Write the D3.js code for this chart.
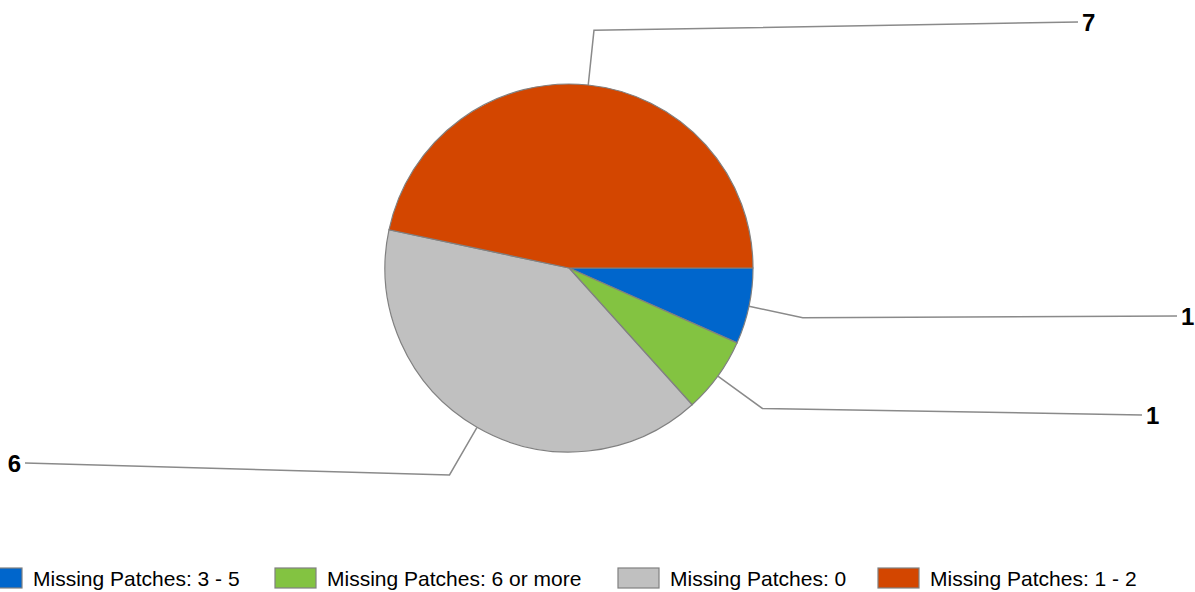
<!DOCTYPE html>
<html>
  <head>
    <meta charset="utf-8">
    <title>Missing Patches</title>
    <script src="https://cdnjs.cloudflare.com/ajax/libs/d3/7.8.5/d3.min.js"></script>
    <style>
      body { margin: 0; background: #fff; }
      text { font-family: "Liberation Sans", Arial, sans-serif; }
    </style>
  </head>
  <body>
    <script>
      // data
      var categories = ["Missing Patches: 3 - 5", "Missing Patches: 6 or more", "Missing Patches: 0", "Missing Patches: 1 - 2"];
      var values = [1, 1, 6, 7];
      var colors = ["#0066cc", "#83c341", "#c0c0c0", "#d34600"];

      // where each value label sits (end of its leader line)
      var labelEnds = [[1177, 316], [1142, 415], [25, 463], [1078, 22]];

      var width = 1195, height = 592;
      var cx = 569, cy = 268, r = 184, rKink = 239;

      var svg = d3.select("body").append("svg")
        .attr("width", width)
        .attr("height", height);

      // pie starts at 3 o'clock and runs clockwise
      var pie = d3.pie()
        .sort(null)
        .startAngle(Math.PI / 2)
        .endAngle(Math.PI / 2 + 2 * Math.PI);

      var arcs = pie(values);
      var arc = d3.arc().innerRadius(0).outerRadius(r);

      var g = svg.append("g").attr("transform", "translate(" + cx + "," + cy + ")");

      g.selectAll("path.slice").data(arcs).enter().append("path")
        .attr("class", "slice")
        .attr("d", arc)
        .attr("fill", function (d, i){ return colors[i]; })
        .attr("stroke", "#808080")
        .attr("stroke-width", 1.2);

      function polar(a, rad){
        // d3 angles: 0 at 12 o'clock, clockwise
        return [rad * Math.sin(a), -rad * Math.cos(a)];
      }

      // leader lines
      arcs.forEach(function (d, i){
        var mid = (d.startAngle + d.endAngle) / 2;
        var p0 = polar(mid, r);
        var p1 = polar(mid, rKink);
        var end = labelEnds[i];
        var pts = [[cx + p0[0], cy + p0[1]], [cx + p1[0], cy + p1[1]], end];
        svg.append("path")
          .attr("d", d3.line()(pts))
          .attr("fill", "none")
          .attr("stroke", "#8a8a8a")
          .attr("stroke-width", 1.5);

        var right = end[0] > cx;
        svg.append("text")
          .attr("x", right ? end[0] + 4 : end[0] - 4)
          .attr("y", end[1])
          .attr("dy", "0.36em")
          .attr("text-anchor", right ? "start" : "end")
          .attr("font-size", 24)
          .attr("font-weight", "bold")
          .attr("fill", "#000")
          .text(values[i]);
      });

      // legend
      var legendX = [-19, 275, 618, 878];
      var legend = svg.selectAll("g.legend").data(categories).enter().append("g")
        .attr("class", "legend")
        .attr("transform", function (d, i){ return "translate(" + legendX[i] + ",568)"; });

      legend.append("rect")
        .attr("width", 41)
        .attr("height", 20)
        .attr("fill", function (d, i){ return colors[i]; })
        .attr("stroke", "#808080")
        .attr("stroke-width", 1.2);

      legend.append("text")
        .attr("x", 52)
        .attr("y", 10)
        .attr("dy", "0.36em")
        .attr("font-size", 21)
        .attr("fill", "#000")
        .text(function (d){ return d; });
    </script>
  </body>
</html>
